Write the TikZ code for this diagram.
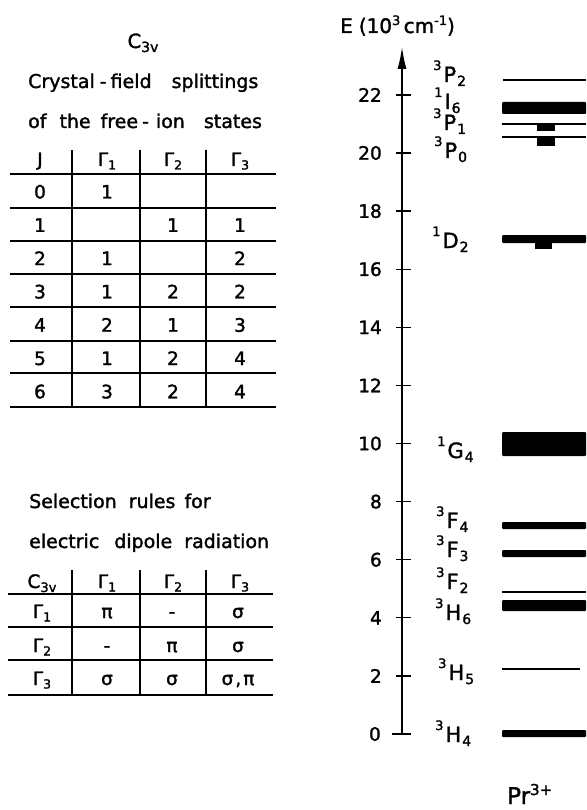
\documentclass[tikz,border=0pt]{standalone}
\usepackage{fontspec}
\setmainfont{DejaVu Sans}[UprightFeatures={FakeBold=1.6}]
\usetikzlibrary{arrows.meta}
\newcommand\Gm[1]{Γ\raisebox{-3.5pt}{\fontsize{12.5}{12.5}\selectfont #1}}
\newcommand\lvl[3]{\raisebox{12pt}{\fontsize{13}{13}\selectfont #1}\hspace{2pt}{\fontsize{21}{21}\selectfont #2}\hspace{1pt}\raisebox{-4pt}{\fontsize{14}{14}\selectfont #3}}
\tikzset{
  txt/.style={inner sep=0pt, font=\fontsize{18.5}{20}\selectfont},
  para/.style={inner sep=0pt, anchor=base west, font=\fontsize{19}{20}\selectfont},
  cell/.style={txt, anchor=base},
  tline/.style={line width=1.4pt},
  lvbar/.style={fill=black, rounded corners=1pt},
  lvline/.style={line width=1.6pt},
  lvlab/.style={inner sep=0pt, anchor=base west},
  tick/.style={line width=1.3pt},
}
\begin{document}
\begin{tikzpicture}[x=1pt,y=-1pt]
\useasboundingbox (0,0) rectangle (586,810);

% ---------- Table 1 ----------
\node[cell, font=\fontsize{19.5}{20}\selectfont] (t1a) at (143,48) {C\raisebox{-4pt}{\fontsize{14}{14}\selectfont 3v}};
\node[para] (t1b) at (28,88) {Crystal\hspace{5pt}-\hspace{4pt}field\hspace{20pt}splittings};
\node[para] (t1c) at (28,128) {of\hspace{13pt}the\hspace{10pt}free\hspace{4pt}-\hspace{7pt}ion\hspace{19pt}states};
\foreach \x in {72,140,206} \draw[tline] (\x,150) -- (\x,407);
\foreach \y in {174,208,241,274,307,341,373,407} \draw[tline] (10,\y) -- (276,\y);
\node[cell] (h1) at (40,166) {J};
\node[cell] (h2) at (107,166) {\Gm{1}};
\node[cell] (h3) at (173,166) {\Gm{2}};
\node[cell] (h4) at (240,166) {\Gm{3}};
\foreach \r/\a/\b/\c [count=\i from 0] in {0/1//,1//1/1,2/1//2,3/1/2/2,4/2/1/3,5/1/2/4,6/3/2/4}{
  \pgfmathsetmacro\yy{191+33.3*\i+7.5}
  \node[cell] (r\i j) at (40,\yy) {\r};
  \node[cell] (r\i a) at (107,\yy) {\a};
  \node[cell] (r\i b) at (173,\yy) {\b};
  \node[cell] (r\i c) at (240,\yy) {\c};
}

% ---------- Table 2 ----------
\node[para] (s1) at (29,508) {Selection\hspace{12pt}rules\hspace{9pt}for};
\node[para] (s2) at (29,548) {electric\hspace{15pt}dipole\hspace{12pt}radiation};
\foreach \x in {72,140,206} \draw[tline] (\x,570) -- (\x,695);
\foreach \y in {594,627,660,695} \draw[tline] (8,\y) -- (273,\y);
\node[cell] (q0) at (42,588) {C\raisebox{-4pt}{\fontsize{13}{13}\selectfont 3v}};
\node[cell] (q1) at (107,588) {\Gm{1}};
\node[cell] (q2) at (173,588) {\Gm{2}};
\node[cell] (q3) at (240,588) {\Gm{3}};
\node[cell] (p1) at (42,618) {\Gm{1}};
\node[cell] (p2) at (42,652) {\Gm{2}};
\node[cell] (p3) at (42,685) {\Gm{3}};
\node[cell] (v11) at (107,618) {π};
\node[cell] (v12) at (172,618) {-};
\node[cell] (v13) at (238,618) {σ};
\node[cell] (v21) at (107,652) {-};
\node[cell] (v22) at (172,652) {π};
\node[cell] (v23) at (238,652) {σ};
\node[cell] (v31) at (107,685) {σ};
\node[cell] (v32) at (172,685) {σ};
\node[cell] (v33) at (238,685) {σ\hspace{2pt},\hspace{2pt}π};

% ---------- Energy axis ----------
\node[inner sep=0pt, anchor=base west, font=\fontsize{20}{20}\selectfont] (elab) at (340,33)
  {E\hspace{6pt}(10\raisebox{8pt}{\fontsize{13}{13}\selectfont 3}\,cm\raisebox{8pt}{\fontsize{13}{13}\selectfont -1})};
\coordinate (a0) at (402,735);
\coordinate (a1) at (402,47);
\draw[line width=1.5pt, -{Latex[length=22pt,width=9pt]}] (a0) -- (a1);
\draw[tick] (392,734) -- (411,734);
\node[txt, anchor=east] (l0) at (381,734) {0};
\foreach \e in {2,4,...,22}{
  \pgfmathsetmacro\yy{734-29.05*\e}
  \draw[tick] (396,\yy) -- (411,\yy);
  \node[txt, anchor=east] (l\e) at (382,\yy) {\e};
}

% ---------- Levels ----------
\draw[lvline] (503,80) -- (586,80);
\fill[lvbar] (502,102) rectangle (586,114);
\draw[lvline] (502,124) -- (586,124);
\fill (537,124) rectangle (555,131);
\draw[lvline] (502,137) -- (586,137);
\fill (537,137) rectangle (555,146);
\fill[lvbar] (502,235) rectangle (586,243);
\fill (535,242) rectangle (552,249);
\fill[lvbar] (502,432) rectangle (586,456);
\fill[lvbar] (502,522) rectangle (586,529);
\fill[lvbar] (502,550) rectangle (586,557);
\draw[lvline] (502,592) -- (586,592);
\fill[lvbar] (502,600) rectangle (586,611);
\draw[line width=2pt] (502,669) -- (580,669);
\fill[lvbar] (502,730) rectangle (586,737);

% ---------- Level labels ----------
\node[lvlab] (L1) at (433,82) {\lvl{3}{P}{2}};
\node[lvlab] (L2) at (434,109) {\lvl{1}{I}{6}};
\node[lvlab] (L3) at (433,130) {\lvl{3}{P}{1}};
\node[lvlab] (L4) at (434,158) {\lvl{3}{P}{0}};
\node[lvlab] (L5) at (432,248) {\lvl{1}{D}{2}};
\node[lvlab] (L6) at (437,458) {\lvl{1}{G}{4}};
\node[lvlab] (L7) at (436,528) {\lvl{3}{F}{4}};
\node[lvlab] (L8) at (436,557) {\lvl{3}{F}{3}};
\node[lvlab] (L9) at (436,589) {\lvl{3}{F}{2}};
\node[lvlab] (L10) at (435,620) {\lvl{3}{H}{6}};
\node[lvlab] (L11) at (438,680) {\lvl{3}{H}{5}};
\node[lvlab] (L12) at (435,742) {\lvl{3}{H}{4}};

\node[inner sep=0pt, anchor=base west, font=\fontsize{23}{23}\selectfont] (pr) at (507,804)
  {Pr\raisebox{9pt}{\fontsize{15}{15}\selectfont 3+}};
\end{tikzpicture}
\end{document}
